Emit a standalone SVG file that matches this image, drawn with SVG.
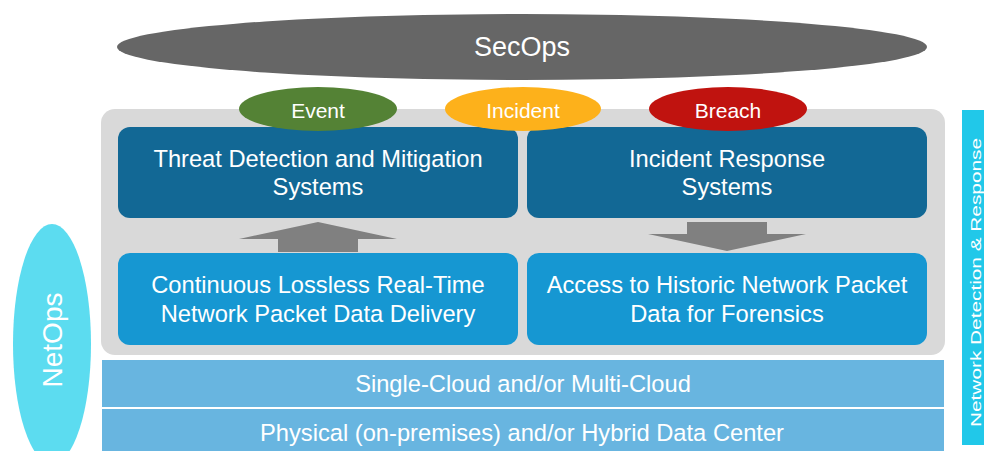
<svg xmlns="http://www.w3.org/2000/svg" width="984" height="451" viewBox="0 0 984 451">
  <style>
    text { font-family: "Liberation Sans", Arial, sans-serif; fill: #ffffff; text-anchor: middle; }
    .box-text { font-size: 23.7px; }
    .tag-text { font-size: 21px; }
    .layer-text { font-size: 23.7px; }
    .dark { fill: #126895; }
    .light { fill: #1697d2; }
    .layer { fill: #68b5e0; }
    .arrow { fill: #808080; }
  </style>

  <!-- SecOps banner -->
  <g id="secops">
    <ellipse cx="522" cy="47" rx="405" ry="33" fill="#666666"/>
    <text x="522" y="56" font-size="27">SecOps</text>
  </g>

  <!-- NetOps side label -->
  <g id="netops">
    <ellipse cx="52" cy="344" rx="39" ry="120" fill="#5cdcf0"/>
    <text transform="translate(62,340) rotate(-90)" font-size="28">NetOps</text>
  </g>

  <!-- Network Detection & Response side bar -->
  <g id="ndr">
    <rect x="962" y="110" width="22" height="335" fill="#21c8e9"/>
    <text transform="translate(981,282.5) rotate(-90)" font-size="15" textLength="289" lengthAdjust="spacingAndGlyphs">Network Detection &amp; Response</text>
  </g>

  <!-- Grey panel holding the four system boxes -->
  <g id="panel">
    <rect x="101" y="109" width="844" height="246" rx="14" fill="#d9d9d9"/>
  </g>

  <g id="threat-detection">
    <rect class="dark" x="118" y="127" width="400" height="91" rx="12"/>
    <text class="box-text" x="318" y="167">Threat Detection and Mitigation</text>
    <text class="box-text" x="318" y="195">Systems</text>
  </g>

  <g id="incident-response">
    <rect class="dark" x="527" y="127" width="400" height="91" rx="12"/>
    <text class="box-text" x="727" y="167">Incident Response</text>
    <text class="box-text" x="727" y="195">Systems</text>
  </g>

  <g id="realtime-delivery">
    <rect class="light" x="118" y="253" width="400" height="92" rx="12"/>
    <text class="box-text" x="318" y="293">Continuous Lossless Real-Time</text>
    <text class="box-text" x="318" y="322">Network Packet Data Delivery</text>
  </g>

  <g id="historic-access">
    <rect class="light" x="527" y="253" width="400" height="92" rx="12"/>
    <text class="box-text" x="727" y="293">Access to Historic Network Packet</text>
    <text class="box-text" x="727" y="322">Data for Forensics</text>
  </g>

  <!-- Status tags -->
  <g id="event">
    <ellipse cx="318" cy="109" rx="79" ry="22" fill="#548235"/>
    <text class="tag-text" x="318" y="118">Event</text>
  </g>
  <g id="incident">
    <ellipse cx="523" cy="109" rx="78" ry="22" fill="#fdb11b"/>
    <text class="tag-text" x="523" y="118">Incident</text>
  </g>
  <g id="breach">
    <ellipse cx="728" cy="109" rx="79" ry="22" fill="#c0130f"/>
    <text class="tag-text" x="728" y="118">Breach</text>
  </g>

  <!-- Connectors: block arrows between the box rows -->
  <g id="connectors">
    <polygon class="arrow" points="278,252 278,239 239,239 318,222 397,239 358,239 358,252"/>
    <polygon class="arrow" points="687,222 767,222 767,234 806,234 727,251 648,234 687,234"/>
  </g>

  <!-- Infrastructure layers -->
  <g id="cloud-layer">
    <rect class="layer" x="102" y="360" width="842" height="47"/>
    <text class="layer-text" x="523" y="392">Single-Cloud and/or Multi-Cloud</text>
  </g>
  <g id="datacenter-layer">
    <rect class="layer" x="102" y="409" width="842" height="42"/>
    <text class="layer-text" x="522" y="441">Physical (on-premises) and/or Hybrid Data Center</text>
  </g>
</svg>
